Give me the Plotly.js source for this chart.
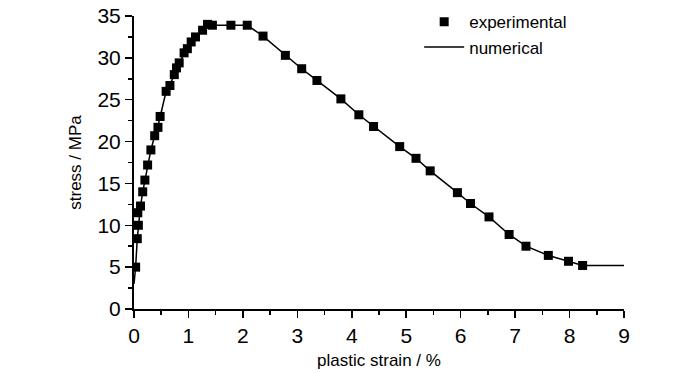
<!DOCTYPE html>
<html>
<head>
<meta charset="utf-8">
<script src="https://cdn.plot.ly/plotly-3.0.1.min.js"></script>
<style>html,body{margin:0;padding:0;background:#fff;}#chart{width:700px;height:373px;}</style>
</head>
<body>
<div id="chart"></div>
<script>
// experimental data (plastic strain %, stress MPa)
const expStrain = [0.03,0.06,0.08,0.07,0.12,0.16,0.20,0.25,0.31,0.38,0.44,0.48,0.59,0.66,0.74,0.78,0.83,0.92,0.98,1.05,1.13,1.26,1.35,1.44,1.78,2.08,2.37,2.78,3.08,3.36,3.80,4.13,4.40,4.88,5.18,5.44,5.94,6.18,6.52,6.89,7.20,7.61,7.98,8.24];
const expStress = [5.0,8.4,10.0,11.5,12.3,14.0,15.4,17.2,19.0,20.7,21.7,23.0,26.0,26.7,28.0,28.8,29.4,30.6,31.1,31.9,32.5,33.3,34.0,33.9,33.9,33.9,32.6,30.3,28.7,27.3,25.1,23.2,21.8,19.4,18.0,16.5,13.9,12.6,11.0,8.9,7.5,6.4,5.7,5.2];
// numerical curve
const numStrain = [0.0,0.03,0.06,0.09,0.12,0.16,0.20,0.25,0.31,0.38,0.44,0.50,0.59,0.66,0.74,0.80,0.88,0.96,1.05,1.13,1.26,1.35,1.50,1.78,2.08,2.37,2.78,3.08,3.36,3.80,4.13,4.40,4.88,5.18,5.44,5.94,6.18,6.52,6.89,7.20,7.61,7.98,8.24,9.0];
const numStress = [3.0,5.0,8.4,10.5,12.3,14.0,15.4,17.2,19.0,20.7,21.9,23.5,26.0,26.8,28.0,29.0,30.0,30.9,31.9,32.5,33.3,33.9,33.9,33.9,33.9,32.6,30.3,28.7,27.3,25.1,23.2,21.8,19.4,18.0,16.5,13.9,12.6,11.0,8.9,7.5,6.4,5.7,5.2,5.2];
const xTicks = [0,1,2,3,4,5,6,7,8,9];
const yTicks = [0,5,10,15,20,25,30,35];

const FONT = "'Liberation Sans', Arial, sans-serif";

const traces = [
  {x: numStrain, y: numStress, mode: 'lines', name: 'numerical',
   line: {color: '#000', width: 1.5}, showlegend: true},
  {x: expStrain, y: expStress, mode: 'markers', name: 'experimental',
   marker: {symbol: 'square', size: 9, color: '#000'}}
];

const layout = {
  width: 700, height: 373,
  margin: {l: 134, r: 76, t: 16, b: 63.5, autoexpand: false},
  paper_bgcolor: '#fff', plot_bgcolor: '#fff',
  font: {family: FONT, color: '#000', size: 17},
  showlegend: true,
  legend: {x: 0.582, y: 1.04, xanchor: 'left', yanchor: 'top', traceorder: 'reversed',
           font: {size: 17, family: FONT}, bgcolor: 'rgba(0,0,0,0)', itemwidth: 40},
  xaxis: {
    range: [0, 9], tickvals: xTicks, ticktext: xTicks.map(String),
    showline: true, linecolor: '#000', linewidth: 2, showgrid: false, zeroline: false,
    ticks: 'outside', ticklen: 7, tickwidth: 1.5, tickcolor: '#000',
    tickfont: {size: 21, family: FONT},
    minor: {ticks: 'outside', ticklen: 4, tickwidth: 1.5, tickcolor: '#000', dtick: 0.5, showgrid: false},
    title: {text: 'plastic strain / %', font: {size: 17, family: FONT}, standoff: 8}
  },
  yaxis: {
    range: [0, 35], tickvals: yTicks, ticktext: yTicks.map(String),
    showline: true, linecolor: '#000', linewidth: 2, showgrid: false, zeroline: false,
    ticks: 'outside', ticklen: 7, tickwidth: 1.5, tickcolor: '#000',
    tickfont: {size: 21, family: FONT},
    minor: {ticks: 'outside', ticklen: 4, tickwidth: 1.5, tickcolor: '#000', dtick: 2.5, showgrid: false},
    title: {text: 'stress / MPa', font: {size: 17, family: FONT}, standoff: 11}
  }
};

Plotly.newPlot('chart', traces, layout, {displayModeBar: false, staticPlot: true});
</script>
</body>
</html>
